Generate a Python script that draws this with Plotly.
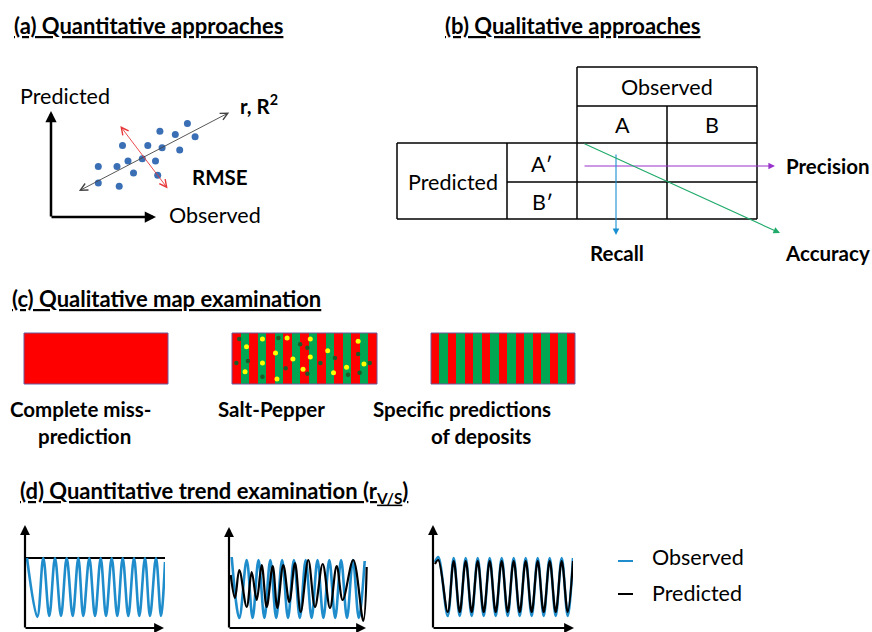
import plotly.graph_objects as go

W, H = 872, 632
FONT = "Lato"
TXT = 21.5        # body text size
BTXT = 20.5       # bold body text size
TTL = 22          # panel title size
BLUE = "#1f8dcc"
DOT = "#3a6fb5"
RED = "#ff0000"
GREEN = "#00a651"

# ---------------- data ----------------
# (a) quantitative scatter (observed, predicted)
obs_a = [12.4, 9.9, 11.3, 13.1, 6.5, 8.8, 10.1, 11.7, 7.0, 8.3, 9.5, 4.3, 6.0, 7.5, 9.7, 4.3, 6.2]
pred_a = [8.5, 7.8, 7.5, 7.3, 6.5, 6.5, 6.3, 6.1, 5.1, 5.3, 5.1, 4.6, 4.6, 4.0, 3.8, 3.1, 2.8]
fit_obs = [2.4, 16.2]
fit_pred = [2.3, 9.5]
rmse_obs = [6.2, 10.6]
rmse_pred = [8.4, 2.6]

# (b) confusion matrix labels
obs_classes = ["A", "B"]
pred_classes = ["A′", "B′"]
metric_names = ["Precision", "Recall", "Accuracy"]

# (c) map stripes (1 = red, 0 = green)
complete_miss = [1]
salt_pepper = [1, 0, 1, 0, 1, 0, 1, 0, 1, 0, 1, 0, 1, 0, 1, 0, 1]
specific = [1, 0, 1, 0, 1, 0, 1, 0, 1, 0, 1, 0, 1, 0, 1, 0, 1]
salt_x = [0.10, 0.21, 0.38, 0.54, 0.87, 0.30, 0.66, 0.42, 0.54, 0.21, 0.91, 0.79, 0.09, 0.49, 0.70, 0.31]
salt_y = [0.27, 0.12, 0.10, 0.12, 0.16, 0.39, 0.35, 0.51, 0.47, 0.59, 0.61, 0.67, 0.76, 0.71, 0.78, 0.90]
pepper_x = [0.05, 0.32, 0.47, 0.52, 0.87, 0.71, 0.03, 0.11, 0.37, 0.61, 0.95, 0.52, 0.21, 0.80, 0.88]
pepper_y = [0.12, 0.10, 0.22, 0.29, 0.41, 0.49, 0.59, 0.55, 0.69, 0.59, 0.59, 0.80, 0.86, 0.82, 0.78]

# (d) trend curves (time, value)
left_obs_t = [2, 12.3, 18.3, 24.3, 30, 36, 41.7, 47.7, 53.3, 58.3, 64.3, 70, 75.7, 81, 86.7, 92.3,
              97.7, 103.3, 109, 114.3, 120, 125, 131, 136, 140]
left_obs_v = [70, 11, 70, 12, 70, 12, 70, 12, 70, 12, 70, 12, 70, 12, 70, 12,
              70, 12, 70, 12, 70, 12, 70, 12, 66]
left_pred_t = [0, 140]
left_pred_v = [70, 70]

mid_obs_t = [2.7, 10.3, 17.7, 23.6, 29.5, 35.4, 41.3, 47.2, 53.1, 59.0, 64.9, 70.8, 76.7, 82.6,
             88.5, 94.4, 100.3, 106.2, 112.1, 118.0, 123.9, 129.8, 135.7]
mid_obs_v = [71, 10, 68, 10, 68, 10, 68, 10, 68, 10, 68, 10, 68, 10,
             68, 10, 68, 10, 68, 10, 68, 10, 67]
mid_pred_t = [1.7, 6, 10.3, 17.7, 22.7, 27.7, 32.7, 37.7, 43.7, 48.3, 54.3, 60.3, 66, 71.7,
              79.3, 86, 93.7, 101, 107.7, 113.7, 124.3, 134.3, 137.7]
mid_pred_v = [53, 30, 58, 21, 56, 28, 63, 21, 62, 20, 63, 26, 65, 16,
              68, 21, 64, 20, 62, 28, 68, 7, 61]

right_t = [2, 5.3, 14.7, 20.7, 26.7, 32.7, 38.7, 44.7, 50.7, 56.7, 62.7, 68.7, 74.7, 80.7,
           86.7, 92.7, 98.7, 104.7, 110.7, 116.7, 122.7, 128.7, 134.7, 140]
right_obs_v = [66, 71, 12, 70, 12, 70, 12, 70, 12, 70, 12, 70, 12, 70,
               12, 70, 12, 70, 12, 70, 12, 70, 12, 70]
right_pred_v = [64, 68, 16, 67, 16, 67, 16, 67, 16, 67, 16, 67, 16, 67,
                16, 67, 16, 67, 16, 67, 16, 67, 16, 67]

legend_names = ["Observed", "Predicted"]

# ---------------- layout helpers ----------------
def dx(p0, p1):
    return [p0 / W, p1 / W]


def dy(top, bottom):
    return [1 - bottom / H, 1 - top / H]


fig = go.Figure()
layout = dict(
    width=W, height=H, autosize=False,
    margin=dict(l=0, r=0, t=0, b=0),
    paper_bgcolor="white", plot_bgcolor="rgba(0,0,0,0)",
    showlegend=False,
    font=dict(family=FONT, size=TXT, color="black"),
)


def add_axes(k, xd, yd, xr, yr):
    layout["xaxis%s" % ("" if k == 1 else k)] = dict(
        domain=xd, range=xr, visible=False, fixedrange=True,
        anchor="y%s" % ("" if k == 1 else k))
    layout["yaxis%s" % ("" if k == 1 else k)] = dict(
        domain=yd, range=yr, visible=False, fixedrange=True,
        anchor="x%s" % ("" if k == 1 else k))


add_axes(1, [0, 1], [0, 1], [0, W], [H, 0])             # pixel canvas
add_axes(2, dx(51, 271), dy(107, 217), [0, 20], [0, 10])  # (a) scatter
add_axes(3, dx(24, 168), dy(333, 384), [0, 1], [1, 0])    # (c) complete miss
add_axes(4, dx(232, 377), dy(333, 384), [0, 1], [1, 0])   # (c) salt-pepper
add_axes(5, dx(431, 575), dy(333, 384), [0, 1], [1, 0])   # (c) specific
add_axes(6, dx(25, 165), dy(525, 628), [0, 140], [0, 103])
add_axes(7, dx(229, 369), dy(525, 628), [0, 140], [0, 103])
add_axes(8, dx(433, 573), dy(525, 628), [0, 140], [0, 103])

shapes = []
ann = []


def text(x, y, s, size=None, bold=False, xanchor="center", ref=""):
    if size is None:
        size = BTXT if bold else TXT
    ann.append(dict(x=x, y=y, xref="x" + ref, yref="y" + ref, text=("<b>%s</b>" % s) if bold else s,
                    showarrow=False, xanchor=xanchor, yanchor="middle",
                    font=dict(family=FONT, size=size, color="black")))


def arrow(x0, y0, x1, y1, color, width, head=2, size=1.0, side="end", ref=""):
    ann.append(dict(x=x1, y=y1, ax=x0, ay=y0, xref="x" + ref, yref="y" + ref,
                    axref="x" + ref, ayref="y" + ref, text="", showarrow=True,
                    arrowhead=head, startarrowhead=head, arrowsize=size, startarrowsize=size,
                    arrowwidth=width, arrowcolor=color, arrowside=side, standoff=0, startstandoff=0))


def line(x0, y0, x1, y1, color="black", width=1.5):
    shapes.append(dict(type="line", xref="x", yref="y", x0=x0, y0=y0, x1=x1, y1=y1,
                       line=dict(color=color, width=width)))


# ---------------- titles ----------------
text(12, 25, "<u>(a) Quantitative approaches</u>", TTL, True, "left")
text(443, 25, "<u>(b) Qualitative approaches</u>", TTL, True, "left")
text(10, 298, "<u>(c) Qualitative map examination</u>", TTL, True, "left")
text(18, 492, "<u>(d) Quantitative trend examination (r<sub>V/S</sub>)</u>", TTL, True, "left")

# ---------------- (a) ----------------
arrow(51, 218, 51, 111, "black", 2.5, head=2, size=0.9)
arrow(50, 217, 156, 217, "black", 2.5, head=2, size=0.9)
text(18, 96, "Predicted", xanchor="left")
text(167, 215, "Observed", xanchor="left")
text(238, 104, "r, R<sup>2</sup>", bold=True, xanchor="left")
text(190, 177, "RMSE", bold=True, xanchor="left")
fig.add_trace(go.Scatter(x=obs_a, y=pred_a, mode="markers", xaxis="x2", yaxis="y2",
                         marker=dict(color=DOT, size=7, line=dict(width=0))))
arrow(fit_obs[0], fit_pred[0], fit_obs[1], fit_pred[1], "#444444", 0.9, head=5, size=1.6,
      side="end+start", ref="2")
arrow(rmse_obs[0], rmse_pred[0], rmse_obs[1], rmse_pred[1], "#e8393a", 0.9, head=5, size=1.6,
      side="end+start", ref="2")

# ---------------- (b) table ----------------
line(577, 67, 757, 67)
line(577, 106, 757, 106)
line(397, 143, 757, 143)
line(507, 182, 757, 182)
line(397, 219, 757, 219)
line(397, 143, 397, 219)
line(507, 143, 507, 219)
line(577, 67, 577, 219)
line(667, 106, 667, 219)
line(757, 67, 757, 219)
text(667, 87, "Observed")
text(622, 125, obs_classes[0])
text(712, 125, obs_classes[1])
text(542, 164, pred_classes[0])
text(542, 202, pred_classes[1])
text(453, 182, "Predicted")
arrow(583, 166, 775, 166, "#9933cc", 1.1, head=2, size=1.2)
arrow(616, 153, 616, 235, "#1a8fd0", 1.1, head=2, size=1.2)
arrow(583, 143, 780, 233, "#20aa6a", 1.1, head=2, size=1.2)
text(784, 166, metric_names[0], bold=True, xanchor="left")
text(617, 253, metric_names[1], bold=True)
text(827, 253, metric_names[2], bold=True)

# ---------------- (c) maps ----------------
cs = [[0, GREEN], [1, RED]]
for k, pat in [(3, complete_miss), (4, salt_pepper), (5, specific)]:
    n = len(pat)
    fig.add_trace(go.Heatmap(z=[pat], x0=0.5 / n, dx=1.0 / n, y0=0.5, dy=1,
                             colorscale=cs, zmin=0, zmax=1, showscale=False,
                             xaxis="x%d" % k, yaxis="y%d" % k, hoverinfo="skip"))
fig.add_trace(go.Scatter(x=salt_x, y=salt_y, mode="markers", xaxis="x4", yaxis="y4",
                         marker=dict(color="#ffff00", size=5)))
fig.add_trace(go.Scatter(x=pepper_x, y=pepper_y, mode="markers", xaxis="x4", yaxis="y4",
                         marker=dict(color="#1e5a28", size=4.5)))
for x0, x1 in [(24, 168), (232, 377), (431, 575)]:
    shapes.append(dict(type="rect", xref="x", yref="y", x0=x0, x1=x1, y0=333, y1=384,
                       line=dict(color="#6a5a9a", width=1)))
text(80, 409, "Complete miss-", bold=True)
text(84, 436, "prediction", bold=True)
text(271, 409, "Salt-Pepper", bold=True)
text(462, 409, "Specific predictions", bold=True)
text(481, 436, "of deposits", bold=True)

# ---------------- (d) trends ----------------
for k, t_o, v_o, t_p, v_p in [(6, left_obs_t, left_obs_v, left_pred_t, left_pred_v),
                              (7, mid_obs_t, mid_obs_v, mid_pred_t, mid_pred_v),
                              (8, right_t, right_obs_v, right_t, right_pred_v)]:
    obs_tr = go.Scatter(x=t_o, y=v_o, mode="lines", xaxis="x%d" % k, yaxis="y%d" % k,
                        line=dict(color=BLUE, width=2.6, shape="spline", smoothing=1.0))
    pred_tr = go.Scatter(x=t_p, y=v_p, mode="lines", xaxis="x%d" % k, yaxis="y%d" % k,
                         line=dict(color="black", width=2.2, shape="spline", smoothing=1.0))
    if k == 6:
        fig.add_trace(pred_tr)
        fig.add_trace(obs_tr)
    else:
        fig.add_trace(obs_tr)
        fig.add_trace(pred_tr)

for x0, ytop, xend in [(25, 525, 164), (229, 527, 366), (433, 525, 574)]:
    arrow(x0, 629, x0, ytop, "black", 2.2, head=2, size=0.9)
    arrow(x0 - 1, 628, xend, 628, "black", 2.2, head=2, size=0.9)

# legend
line(618, 561, 633, 561, BLUE, 2)
line(618, 594, 633, 594, "black", 2)
text(650, 557, legend_names[0], xanchor="left")
text(650, 593, legend_names[1], xanchor="left")

layout["shapes"] = shapes
layout["annotations"] = ann
fig.update_layout(**layout)
fig.write_html("out.html", config={"staticPlot": True},
               post_script="document.body.style.margin='0';document.body.style.overflow='hidden';")
